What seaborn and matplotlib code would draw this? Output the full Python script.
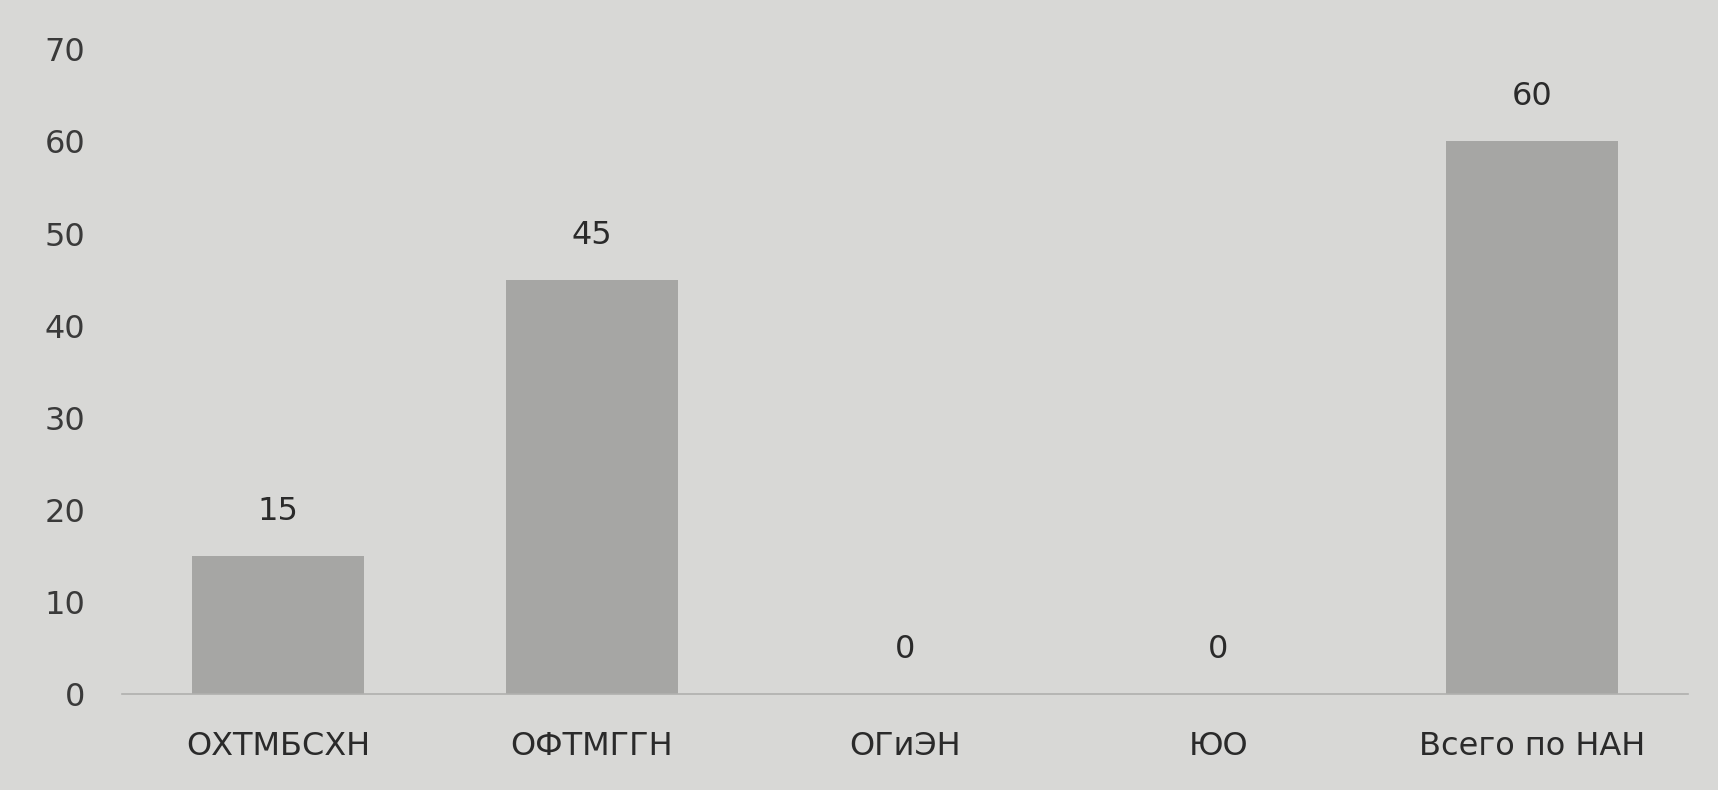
import matplotlib
matplotlib.use("Agg")
import matplotlib.pyplot as plt
import seaborn as sns
import pandas as pd

categories = ["ОХТМБСХН", "ОФТМГГН", "ОГиЭН", "ЮО", "Всего по НАН"]
values = [15, 45, 0, 0, 60]
yticks = [0, 10, 20, 30, 40, 50, 60, 70]

sns.set_style("white")
plt.rcParams['font.family'] = ['DejaVu Sans']

bg = "#d8d8d6"
fig = plt.figure(figsize=(17.18, 7.9), dpi=100, facecolor=bg)
ax = fig.add_axes([0.0708, 0.121, 0.912, 0.8166])
ax.set_facecolor(bg)

df = pd.DataFrame({"cat": categories, "val": values})
sns.barplot(data=df, x="cat", y="val", color="#a6a6a4", saturation=1,
            width=0.55, linewidth=0, ax=ax)

for c in ax.containers:
    ax.bar_label(c, labels=[str(v) for v in values], padding=21,
                 fontsize=23, color="#2a2a2a")

ax.set_ylim(0, 70)
ax.set_yticks(yticks)
ax.set_yticklabels([str(t) for t in yticks], fontsize=23, color="#3a3a3a")
ax.tick_params(axis="x", labelsize=23, colors="#2a2a2a", length=0, pad=26)
ax.tick_params(axis="y", length=0, pad=26)
ax.set_xlabel("")
ax.set_ylabel("")
for s in ["top", "right", "left"]:
    ax.spines[s].set_visible(False)
ax.spines["bottom"].set_color("#b0b0ae")
ax.spines["bottom"].set_linewidth(1.2)

fig.savefig("out.png", dpi=100, facecolor=bg)
